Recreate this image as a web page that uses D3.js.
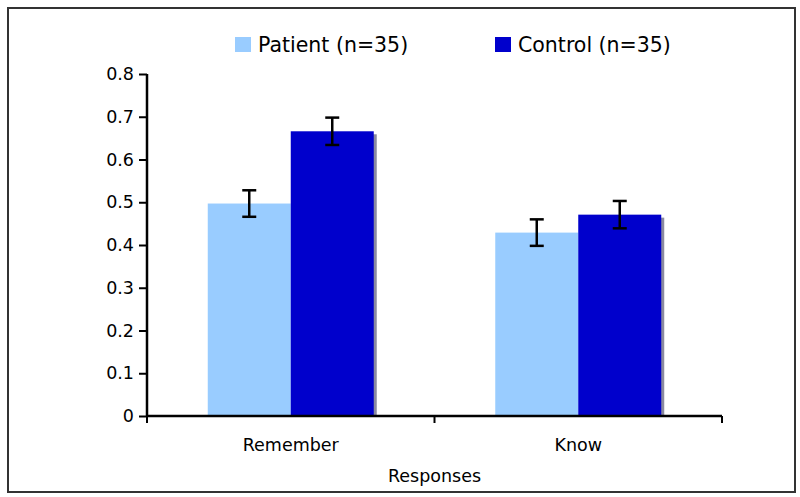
<!DOCTYPE html>
<html><head><meta charset="utf-8">
<script src="https://cdn.jsdelivr.net/npm/d3@7"></script>
<style>body{margin:0;background:#fff}svg{display:block}</style>
</head><body>
<svg id="c" width="800" height="497"></svg>
<script>
const categories = ["Remember", "Know"];
const seriesNames = ["Patient (n=35)", "Control (n=35)"];
const patientValues = [0.497, 0.429];
const controlValues = [0.666, 0.471];
const patientErrors = [0.031, 0.031];
const controlErrors = [0.032, 0.032];
const yTicks = [0, 0.1, 0.2, 0.3, 0.4, 0.5, 0.6, 0.7, 0.8];
const xTitle = "Responses";
const colors = ["#99ccff", "#0000cc"];

const svg = d3.select("#c");
const font = "Verdana, 'DejaVu Sans', sans-serif";
svg.append("rect").attr("x", 8).attr("y", 8).attr("width", 787).attr("height", 484)
  .attr("fill", "#fff").attr("stroke", "#333").attr("stroke-width", 2);

const x0 = 147, x1 = 722, yB = 416, yT = 74;
const x = d3.scaleBand().domain(categories).range([x0, x1]).paddingInner(0).paddingOuter(0);
const xs = d3.scaleBand().domain(seriesNames).range([0, x.bandwidth()]).paddingOuter(0.732).paddingInner(0);
const y = d3.scaleLinear().domain([0, 0.8]).range([yB, yT]);

const data = categories.map((c, i) => ({
  cat: c,
  vals: [
    {s: seriesNames[0], v: patientValues[i], e: patientErrors[i], col: colors[0]},
    {s: seriesNames[1], v: controlValues[i], e: controlErrors[i], col: colors[1]}
  ]
}));

const g = svg.append("g");
const grp = g.selectAll(".cat").data(data).join("g")
  .attr("transform", d => `translate(${x(d.cat)},0)`);
// shadow for control bars
grp.selectAll(".sh").data(d => d.vals.filter(v => v.s === seriesNames[1])).join("rect")
  .attr("x", d => xs(d.s) + 3).attr("y", d => y(d.v) + 3)
  .attr("width", xs.bandwidth()).attr("height", d => yB - y(d.v) - 3)
  .attr("fill", "#8a8aa0");
grp.selectAll(".bar").data(d => d.vals).join("rect")
  .attr("x", d => xs(d.s)).attr("y", d => y(d.v))
  .attr("width", xs.bandwidth()).attr("height", d => yB - y(d.v))
  .attr("fill", d => d.col);
// error bars
const eb = grp.selectAll(".eb").data(d => d.vals).join("g")
  .attr("stroke", "#000").attr("stroke-width", 2.5);
eb.append("line").attr("x1", d => xs(d.s) + xs.bandwidth()/2).attr("x2", d => xs(d.s) + xs.bandwidth()/2)
  .attr("y1", d => y(d.v + d.e)).attr("y2", d => y(d.v - d.e));
eb.append("line").attr("x1", d => xs(d.s) + xs.bandwidth()/2 - 7).attr("x2", d => xs(d.s) + xs.bandwidth()/2 + 7)
  .attr("y1", d => y(d.v + d.e)).attr("y2", d => y(d.v + d.e));
eb.append("line").attr("x1", d => xs(d.s) + xs.bandwidth()/2 - 7).attr("x2", d => xs(d.s) + xs.bandwidth()/2 + 7)
  .attr("y1", d => y(d.v - d.e)).attr("y2", d => y(d.v - d.e));

// y axis
const ya = svg.append("g").attr("transform", `translate(${x0},0)`)
  .call(d3.axisLeft(y).tickValues(yTicks).tickFormat(d => d === 0 ? "0" : d3.format(".1f")(d)).tickSize(8).tickPadding(5));
ya.select(".domain").attr("stroke", "#000").attr("stroke-width", 2.5).attr("d", `M0,${yT}V${yB}`);
ya.selectAll(".tick line").attr("stroke", "#000").attr("stroke-width", 2);
ya.selectAll("text").attr("font-family", font).attr("font-size", 17.5).attr("fill", "#000");

// x axis
const xa = svg.append("g").attr("transform", `translate(0,${yB})`);
xa.append("line").attr("x1", x0).attr("x2", x1).attr("stroke", "#000").attr("stroke-width", 2.5);
const bounds = [x0, ...categories.map(c => x(c) + x.bandwidth())];
xa.selectAll(".xt").data(bounds).join("line")
  .attr("x1", d => d).attr("x2", d => d).attr("y1", 0).attr("y2", 7)
  .attr("stroke", "#000").attr("stroke-width", 2);
xa.selectAll(".xl").data(categories).join("text")
  .attr("x", d => x(d) + x.bandwidth()/2).attr("y", 35)
  .attr("text-anchor", "middle").attr("font-family", font).attr("font-size", 17.5).text(d => d);
svg.append("text").attr("x", (x0 + x1)/2).attr("y", 482).attr("text-anchor", "middle")
  .attr("font-family", font).attr("font-size", 17.5).text(xTitle);

// legend
const legX = [235, 495];
const lg = svg.selectAll(".lg").data(seriesNames).join("g")
  .attr("transform", (d, i) => `translate(${legX[i]},37)`);
lg.append("rect").attr("width", 16).attr("height", 15).attr("fill", (d, i) => colors[i]);
lg.append("text").attr("x", 23).attr("y", 15).attr("font-family", font).attr("font-size", 20.5).text(d => d);
</script>
</body></html>
